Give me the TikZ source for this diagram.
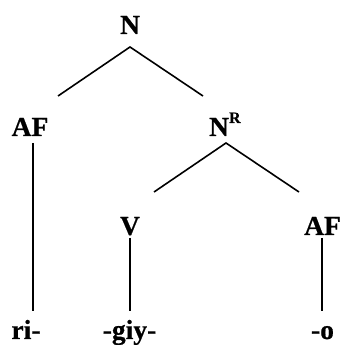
\documentclass[tikz,border=0pt]{standalone}
\usepackage{fontspec}
\setmainfont{Liberation Serif}[BoldFeatures={FakeBold=0.6}]
\begin{document}
\begin{tikzpicture}[x=1pt,y=1pt,
  lbl/.style={font=\fontsize{27.5}{30}\selectfont\bfseries, inner sep=0pt, anchor=base},
  edge/.style={line width=1.6pt}]
\useasboundingbox (0,0) rectangle (344,345);
% labels (baseline positions)
\node[lbl] (N) at (130,311) {N};
\node[lbl] (AF1) at (30,209) {AF};
\node[lbl, anchor=base west] (NR) at (209,209) {N\raisebox{13pt}{\fontsize{16}{16}\selectfont\bfseries R}};
\node[lbl] (V) at (130,110) {V};
\node[lbl] (AF2) at (322.5,110) {AF};
\node[lbl] (ri) at (26,6) {ri-};
\node[lbl] (giy) at (129.5,6) {-giy-};
\node[lbl] (o) at (322.5,6) {-o};
% connector end points
\coordinate (Nb) at (130,298);
\coordinate (AF1t) at (58,249);
\coordinate (NRt) at (203,249);
\coordinate (AF1b) at (33,202);
\coordinate (rit) at (33,34);
\coordinate (NRb) at (226,202);
\coordinate (Vt) at (154,153);
\coordinate (AF2t) at (299,153);
\coordinate (Vb) at (130,107);
\coordinate (giyt) at (130,34);
\coordinate (AF2b) at (322,107);
\coordinate (ot) at (322,34);
\draw[edge] (AF1t) -- (Nb) -- (NRt);
\draw[edge] (AF1b) -- (rit);
\draw[edge] (Vt) -- (NRb) -- (AF2t);
\draw[edge] (Vb) -- (giyt);
\draw[edge] (AF2b) -- (ot);
\end{tikzpicture}
\end{document}
